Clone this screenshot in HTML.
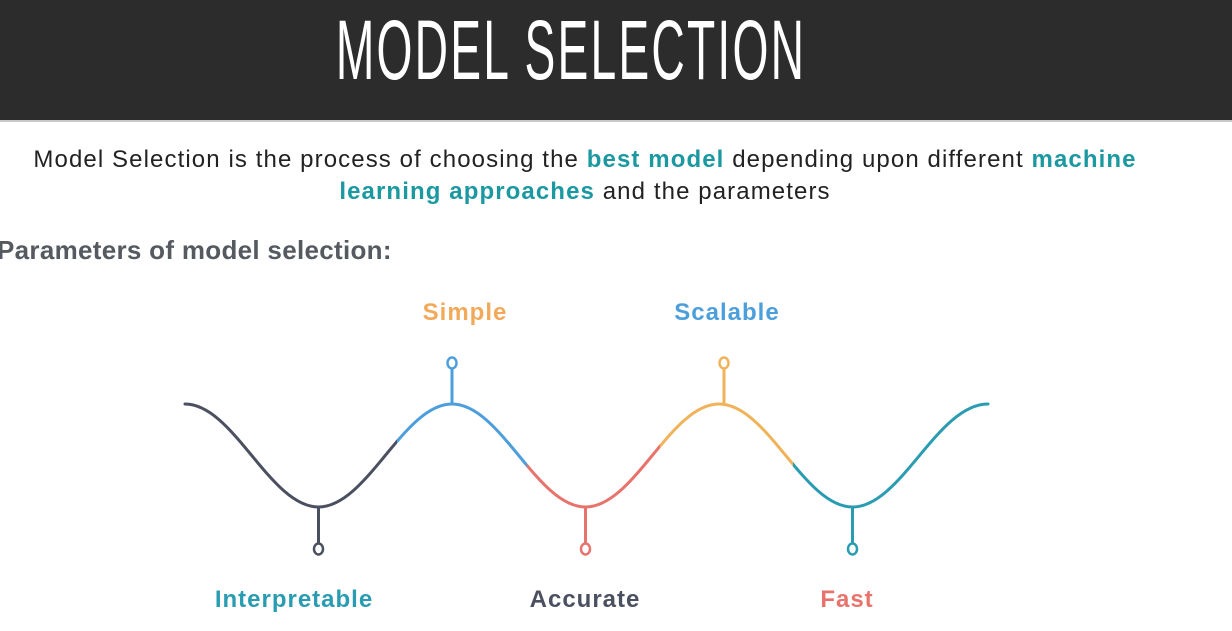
<!DOCTYPE html>
<html><head><meta charset="utf-8"><style>
html,body{margin:0;padding:0;}
body{width:1232px;height:631px;background:#fff;position:relative;overflow:hidden;font-family:"Liberation Sans",sans-serif;}
.hdr{position:absolute;left:0;top:0;width:1232px;height:120px;background:#2d2c2d;border-bottom:2px solid #c8c8c8;}
.title{position:absolute;left:571px;top:8px;transform:translateX(-50%) scaleX(0.55);color:#fff;font-size:84px;line-height:84px;white-space:nowrap;letter-spacing:4px;}
.p{position:absolute;left:0;width:1170px;text-align:center;font-size:24px;letter-spacing:1.1px;color:#222;white-space:nowrap;}
.t{color:#1b98a0;font-weight:bold;}
.lab{position:absolute;font-weight:bold;font-size:24px;letter-spacing:1px;transform:translateX(-50%);white-space:nowrap;}
</style></head><body>
<div class="hdr"><div class="title">MODEL SELECTION</div></div>
<div class="p" style="top:146px">Model Selection is the process of choosing the <span class="t">best model</span> depending upon different <span class="t">machine</span></div>
<div class="p" style="top:178px"><span class="t">learning approaches</span> and the parameters</div>
<div style="position:absolute;left:-3px;top:235px;font-size:26px;letter-spacing:0.3px;color:#555a60;font-weight:bold;">Parameters of model selection:</div>
<svg width="1232" height="631" style="position:absolute;left:0;top:0">
<defs>
<path id="w" d="M185,404 C233.6,404 269.9,507 318.5,507 C367.1,507 403.4,404 452,404 C500.6,404 536.9,507 585.5,507 C634.1,507 670.4,404 719,404 C767.6,404 803.9,507 852.5,507 C901.1,507 937.4,404 988,404"/>
<clipPath id="c1"><rect x="0" y="0" width="397" height="631"/></clipPath>
<clipPath id="c2"><rect x="397" y="0" width="130" height="631"/></clipPath>
<clipPath id="c3"><rect x="527" y="0" width="133" height="631"/></clipPath>
<clipPath id="c4"><rect x="660" y="0" width="133" height="631"/></clipPath>
<clipPath id="c5"><rect x="793" y="0" width="300" height="631"/></clipPath>
</defs>
<g fill="none" stroke-width="3" stroke-linecap="round">
<use href="#w" stroke="#4b5060" clip-path="url(#c1)"/>
<use href="#w" stroke="#4d9fdb" clip-path="url(#c2)"/>
<use href="#w" stroke="#e8736c" clip-path="url(#c3)"/>
<use href="#w" stroke="#f0b35a" clip-path="url(#c4)"/>
<use href="#w" stroke="#2a9cb2" clip-path="url(#c5)"/>
<line x1="318.5" y1="507" x2="318.5" y2="543" stroke="#4b5060"/>
<ellipse cx="318.5" cy="549" rx="4.5" ry="5.5" stroke="#4b5060" stroke-width="2.5"/>
<line x1="452" y1="404" x2="452" y2="369" stroke="#4d9fdb"/>
<ellipse cx="452" cy="363" rx="4.5" ry="5.5" stroke="#4d9fdb" stroke-width="2.5"/>
<line x1="585.5" y1="507" x2="585.5" y2="543" stroke="#e8736c"/>
<ellipse cx="585.5" cy="549" rx="4.5" ry="5.5" stroke="#e8736c" stroke-width="2.5"/>
<line x1="724" y1="404" x2="724" y2="369" stroke="#f0b35a"/>
<ellipse cx="724" cy="363" rx="4.5" ry="5.5" stroke="#f0b35a" stroke-width="2.5"/>
<line x1="852.5" y1="507" x2="852.5" y2="543" stroke="#2a9cb2"/>
<ellipse cx="852.5" cy="549" rx="4.5" ry="5.5" stroke="#2a9cb2" stroke-width="2.5"/>
</g>
</svg>
<div class="lab" style="left:465px;top:299px;color:#f2a95a">Simple</div>
<div class="lab" style="left:727px;top:299px;color:#4d9fdb">Scalable</div>
<div class="lab" style="left:294px;top:586px;color:#2a9cb2">Interpretable</div>
<div class="lab" style="left:585px;top:586px;color:#4b5060">Accurate</div>
<div class="lab" style="left:847px;top:586px;color:#e8736c">Fast</div>
</body></html>
